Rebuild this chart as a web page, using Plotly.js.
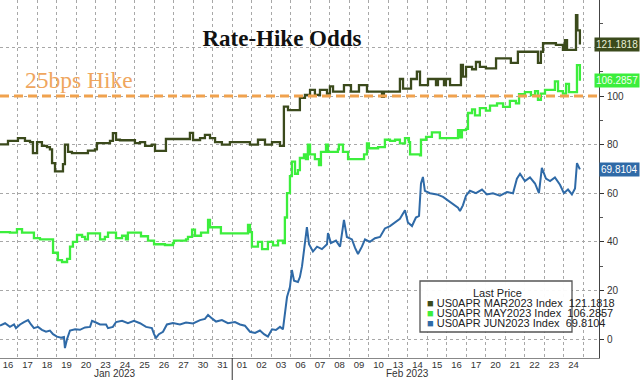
<!DOCTYPE html>
<html><head><meta charset="utf-8">
<script src="https://cdn.plot.ly/plotly-3.0.1.min.js"></script>
<style>html,body{margin:0;padding:0;background:#fff}</style>
</head><body><div id="chart" style="width:640px;height:380px"></div>
<script>
// ---- data ----
const dayLabels = ['16','17','18','19','20','23','24','25','26','27','30','31',
  '01','02','03','06','07','08','09','10','13','14','15','16','17','20','21','22','23','24'];
const monthLabels = ['Jan 2023','Feb 2023'];
const monthDayCounts = [12, 18];
const yTickVals = [0, 20, 40, 60, 80, 100, 120];
const yTickText = ['0', '20', '40', '60', '80', '100', ''];
const seriesNames = ['US0APR MAR2023 Index','US0APR MAY2023 Index','US0APR JUN2023 Index'];
const lastPrices = ['121.1818', '106.2857', '69.8104'];
const seriesColors = ['#3b4a1c','#3cee3c','#2f6aa7'];
const hikeLevel = 100;
const hikeLabel = '25bps Hike';
const chartTitle = 'Rate-Hike Odds';
const legendTitle = 'Last Price';

// time in trading-day units (day i spans [i, i+1])
const marT = [0.09,0.5,1.01,1.37,1.63,1.78,1.99,2.24,2.5,2.65,2.76,2.91,3.17,3.32,3.42,3.58,3.78,4.19,4.6,4.96,5.06,5.47,5.73,5.88,6.04,6.24,6.76,7.01,7.27,7.53,7.88,8.04,8.55,8.6,9.73,9.83,9.99,10.35,10.6,10.86,11.12,11.47,11.88,12.4,12.91,13.32,13.68,14.04,14.45,14.6,14.65,14.86,15.37,15.47,15.73,15.99,16.24,16.5,16.86,17.01,17.17,17.68,17.73,18.04,18.09,18.45,18.5,18.86,18.91,19.58,19.68,19.78,20.5,20.6,20.76,21.12,21.17,21.47,21.63,21.99,22.04,22.45,22.55,22.86,22.96,23.17,23.68,23.73,23.83,23.99,24.3,24.5,24.7,25.01,25.42,25.53,26.24,26.29,26.6,26.65,27.27,27.68,27.83,27.94,28.55,28.6,28.96,29.06,29.17,29.58,29.63,29.7,29.83];
const marV = [80.1,81.5,82.7,81.5,81,76.5,81,79.5,79,78,72.4,69,69,72,80,77,76.5,76.5,77.5,78,80.6,80.6,81.5,84.7,82,81.8,81.8,80.6,81,79.5,80,77.4,77.4,82.3,82.3,84.8,81.9,82.7,84,82.7,81,80,81,81,80,82,80,81,79.5,79.5,95.6,94.2,94.2,99.2,100.5,102.5,100.5,102.5,101,104,101.8,101.8,104.5,104.5,101.8,101.8,104.5,104.5,101.8,101.8,99.6,101.8,101.8,107,103,103,107,110,104.5,104.5,107,104.5,107,104.5,107,104.5,104.5,112.8,108,112,111,114,112,111.4,111.4,115.5,115.5,113.6,113.6,118.2,118.2,113.6,118.2,121.7,121.7,121,119,123,119,119,133.3,127,121.18];

const mayT = [0.09,0.6,0.96,1.22,1.73,1.83,2.14,2.65,2.81,3.06,3.27,3.53,3.68,3.83,4.04,4.3,4.45,4.6,5.01,5.22,5.47,5.63,5.88,6.04,6.35,6.55,6.65,7.27,7.32,7.63,7.68,7.94,7.99,8.55,8.96,9.01,9.63,9.73,9.94,10.09,10.35,10.4,10.71,10.76,10.86,11.37,11.42,12.4,12.81,12.91,13.01,13.32,13.53,13.83,14.09,14.35,14.6,14.7,14.81,14.96,15.06,15.22,15.37,15.47,15.68,15.78,15.88,15.99,16.24,16.45,16.55,16.81,16.91,17.42,17.47,17.68,17.94,18.71,18.76,18.91,19.01,19.48,19.83,20.09,20.35,20.6,20.86,21.06,21.12,21.63,21.68,21.94,22.24,22.65,23.48,23.58,23.68,23.78,23.99,24.09,24.3,24.45,24.7,25.01,25.22,25.58,25.89,26.24,26.55,26.71,27.01,27.32,27.53,27.68,27.83,28.04,28.35,28.55,28.71,28.96,29.12,29.27,29.58,29.68,29.83];
const mayV = [44,43.8,45.2,43.8,43.8,41.5,41,41,35.5,32.5,31.7,33,38,40,42.8,42,41,43.5,43.5,41,42,43.8,43.8,41.5,42.5,41,43.8,43.8,42.3,42.3,40.5,40.5,39,38.7,39.5,40.5,41,42,45,42.5,42.5,43.8,43.8,49,46,46,43.5,43.5,47,44,38,40,37,40,38.5,40.5,39.5,50,60,67,73,68,69.5,74.5,76,74,80,76,74,71.6,77,80,77,78,80,77,74,74,76,80.5,78.5,79,82,81.5,82,80.5,82.7,81,76,75.6,82,83.2,85,82.7,82.7,86,83,86,86.5,93,94.5,92,95,94,96,97,95.5,98,97,100.8,101.6,100.4,102,98.4,101,102.5,102.5,106,102,101,105,101.6,101.6,112.7,106.29];

const junT = [0.09,0.35,0.6,0.81,0.91,1.12,1.32,1.53,1.68,1.83,2.04,2.24,2.45,2.65,2.81,3.01,3.22,3.37,3.42,3.53,3.68,3.94,4.19,4.45,4.71,4.81,5.01,5.22,5.53,5.63,5.88,6.04,6.35,6.65,6.96,7.27,7.58,7.88,7.99,8.09,8.24,8.45,8.65,8.96,9.32,9.63,9.99,10.35,10.6,10.76,10.96,11.17,11.47,11.78,12.14,12.4,12.65,12.91,13.17,13.42,13.63,13.83,14.04,14.24,14.45,14.6,14.81,14.96,15.06,15.17,15.37,15.47,15.58,15.73,15.83,15.94,16.14,16.35,16.6,16.86,16.91,17.06,17.32,17.53,17.73,17.88,18.14,18.3,18.45,18.65,18.81,19.06,19.32,19.58,19.83,20.09,20.35,20.6,20.86,21.01,21.22,21.42,21.58,21.68,21.78,21.88,22.14,22.5,22.81,23.06,23.32,23.58,23.68,23.83,23.99,24.19,24.5,24.81,25.06,25.37,25.73,26.09,26.4,26.6,26.76,27.01,27.27,27.53,27.73,27.88,28.09,28.3,28.55,28.81,29.01,29.22,29.42,29.58,29.68,29.83];
const junV = [5.5,6.5,5,6,4.5,6,7,7.8,6,4.5,5,3.8,3,3.5,2,1,0.5,0.8,-3.7,0,3.5,4,3.8,4.8,5,7.5,6.8,6,6,4.5,5,7,7.5,6.5,7.5,6.5,5,4.5,2,0.5,2,3,6,6.6,6,6.8,6.4,7.8,8.3,9.9,8.5,7.2,7.8,6.5,7,6,5.5,3,2.5,3.5,2,1,4,3.7,5,4,17.3,21.4,28.4,24,23.5,25.5,30,39.5,46,39,36,38,37,39,43.6,39.5,40.5,38,49,42,41,37.5,35,38,41,40,41.5,42,45.5,46.5,48,49.5,53,48,46.5,50,50.7,64,66.7,61,60,59.5,58.5,57,55.5,54,52.7,55,59,61,60,61.5,59.5,60,59,60.5,60,66,68,65,66.5,64,60,70.4,66,65,66.5,63.5,60,61.5,59.5,62,72.4,69.81];

// ---- build ----
const seriesT = [marT, mayT, junT];
const seriesV = [marV, mayV, junV];
const traces = seriesNames.map((n, k) => ({
  type: 'scatter', mode: 'lines', name: n,
  x: seriesT[k], y: seriesV[k],
  line: {color: seriesColors[k], width: k === 2 ? 2 : 2.3, shape: k === 2 ? 'linear' : 'hv'},
  showlegend: false, hoverinfo: 'skip'
}));

const fam = 'Liberation Sans Narrow, Arial Narrow, Arial, sans-serif';
const tickFont = {family: fam, size: 10, color: '#333'};
const xTickFont = {family: fam, size: 9.5, color: '#333'};
const legFont = {family: fam, size: 11, color: '#222'};
const plotW = 599, plotH = 358;

const annotations = [];
// month labels
let start = 0;
monthLabels.forEach((m, i) => {
  annotations.push({xref: 'x', yref: 'paper', x: start + monthDayCounts[i] / 2, y: 1 - 380 / plotH,
    text: m, showarrow: false, font: {family: fam, size: 10, color: '#333'}, xanchor: 'center', yanchor: 'bottom', borderpad: 0});
  start += monthDayCounts[i];
});
// 25bps label
annotations.push({xref: 'paper', yref: 'y', x: 0.038, y: hikeLevel + 6.6, text: hikeLabel, showarrow: false,
  xanchor: 'left', yanchor: 'middle', font: {family: 'Liberation Serif, serif', size: 23.5, color: '#efa65e'}});
// last value tags
const tagText = ['#e8efd6', '#f2fff0', '#ffffff'];
lastPrices.forEach((v, k) => {
  annotations.push({xref: 'paper', yref: 'y', x: 640 / plotW, y: seriesV[k][seriesV[k].length - 1], xanchor: 'right',
    yanchor: 'middle', text: v, showarrow: false, bgcolor: seriesColors[k],
    borderpad: 1, font: {family: fam, size: 10, color: tagText[k]}});
});
// legend (manual)
const legY = [302.7, 313, 323];
annotations.push({xref: 'paper', yref: 'paper', x: 497 / plotW, y: 1 - 292.7 / plotH, text: legendTitle, showarrow: false,
  xanchor: 'center', yanchor: 'middle', font: legFont});
seriesNames.forEach((n, k) => {
  annotations.push({xref: 'paper', yref: 'paper', x: 425 / plotW, y: 1 - legY[k] / plotH, xanchor: 'left', yanchor: 'middle',
    showarrow: false, font: legFont,
    text: `<span style="color:${seriesColors[k]}">■</span> ${n}  ${lastPrices[k]}`});
});

const shapes = [
  {type: 'line', xref: 'paper', yref: 'y', x0: 0, x1: 1, y0: hikeLevel, y1: hikeLevel,
    line: {color: '#f0a24e', width: 3, dash: '9px,5px'}},
  {type: 'line', xref: 'x', yref: 'paper', x0: monthDayCounts[0], x1: monthDayCounts[0], y0: 0, y1: 1 - 380 / plotH,
    line: {color: '#333', width: 1}},
  {type: 'rect', xref: 'paper', yref: 'paper', x0: 420 / plotW, x1: 572 / plotW, y0: 1 - 332 / plotH, y1: 1 - 281 / plotH,
    line: {color: '#555', width: 1.3}, fillcolor: 'rgba(255,255,255,0.95)', layer: 'above'}
];

const layout = {
  width: 640, height: 380,
  margin: {l: 0, r: 41, t: 0, b: 22, pad: 0},
  paper_bgcolor: '#fff', plot_bgcolor: '#fff',
  title: {text: chartTitle, x: 282 / plotW, xanchor: 'center', y: 1 - 37.5 / 380, yanchor: 'middle', xref: 'paper',
    font: {family: 'Liberation Serif, serif', size: 23, color: '#111', weight: 'bold'}},
  xaxis: {range: [0.09, 30.81], tickmode: 'array', tickvals: dayLabels.map((_, i) => i + 0.5), ticktext: dayLabels,
    showgrid: false, zeroline: false, showline: true, linecolor: '#888', linewidth: 1, ticks: '', tickfont: xTickFont,
    ticklabelstandoff: -2,
    minor: {tick0: 0, dtick: 1, showgrid: true, gridcolor: '#a8a8a8', griddash: 'dot', gridwidth: 1}},
  yaxis: {side: 'right', range: [-7.8, 139.5], tickmode: 'array', tickvals: yTickVals, ticktext: yTickText,
    showgrid: true, gridcolor: '#a8a8a8', griddash: 'dot',
    zeroline: false, showline: true, linecolor: '#444', linewidth: 1, ticks: 'outside', ticklen: 4, tickcolor: '#333',
    tickfont: tickFont, ticklabelstandoff: 1,
    minor: {tickmode: 'linear', tick0: 0, dtick: 10, ticks: 'outside', ticklen: 3, tickcolor: '#555', showgrid: false}},
  showlegend: false,
  annotations: annotations, shapes: shapes
};

Plotly.newPlot('chart', traces, layout, {staticPlot: true, displayModeBar: false});
</script></body></html>
